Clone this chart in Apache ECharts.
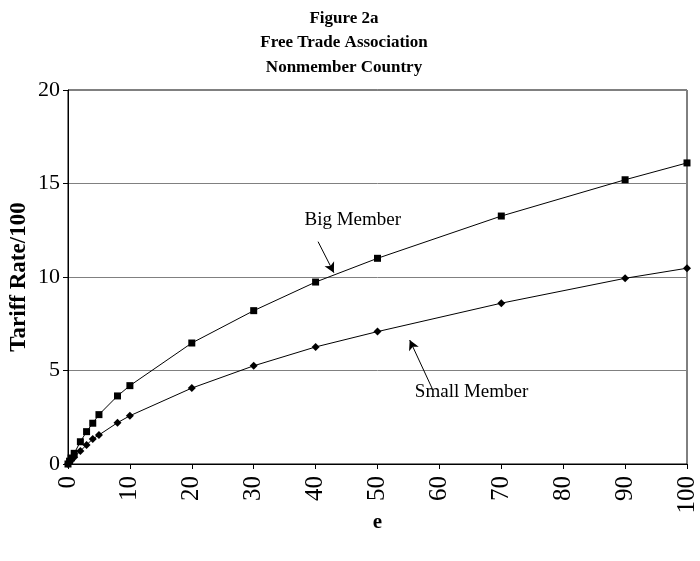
<!DOCTYPE html>
<html>
<head>
<meta charset="utf-8">
<script src="https://cdn.jsdelivr.net/npm/echarts@6/dist/echarts.min.js"></script>
<style>html,body{margin:0;padding:0;background:#fff}#c{width:700px;height:561px}</style>
</head>
<body>
<div id="c"></div>
<script>
var titleLines = ['Figure 2a', 'Free Trade Association', 'Nonmember Country'];
var xValues = [0, 0.25, 0.5, 1, 2, 3, 4, 5, 8, 10, 20, 30, 40, 50, 70, 90, 100];
var bigMember = [0, 0.15, 0.32, 0.57, 1.19, 1.73, 2.18, 2.64, 3.64, 4.19, 6.47, 8.2, 9.73, 11.0, 13.26, 15.2, 16.1];
var smallMember = [0, 0.1, 0.2, 0.36, 0.7, 1.02, 1.34, 1.55, 2.21, 2.58, 4.06, 5.25, 6.26, 7.08, 8.6, 9.93, 10.47];
var xAxisName = 'e';
var yAxisName = 'Tariff Rate/100';
// annotation anchors in data coordinates
var bigLabel = {text: 'Big Member', at: [46, 13.05]};
var bigArrow = [[40.4, 11.89], [42.95, 10.23]];
var smallLabel = {text: 'Small Member', at: [65.2, 3.85]};
var smallArrow = [[58.8, 4.06], [55.2, 6.63]];

function pairs(ys) { return xValues.map(function (x, i) { return [x, ys[i]]; }); }
var serif = '"Liberation Serif", "Times New Roman", serif';

var chart = echarts.init(document.getElementById('c'), null, {renderer: 'canvas'});
chart.setOption({
  animation: false,
  backgroundColor: '#fff',
  title: {
    text: titleLines.join('\n'),
    left: 339, top: 1, textAlign: 'center',
    textStyle: {fontFamily: serif, fontWeight: 'bold', fontSize: 17, lineHeight: 24.5, color: '#000'}
  },
  grid: {left: 67, right: 13, top: 90, bottom: 97, show: true, borderColor: '#000', borderWidth: 1, backgroundColor: 'transparent'},
  xAxis: {
    type: 'value', min: 0, max: 100, interval: 10,
    name: xAxisName, nameLocation: 'middle', nameGap: 48, nameMoveOverlap: false,
    nameTextStyle: {fontFamily: serif, fontWeight: 'bold', fontSize: 21, color: '#000'},
    axisLine: {show: true, lineStyle: {color: '#000', width: 1}},
    axisTick: {show: true, length: 5, lineStyle: {color: '#000'}},
    axisLabel: {rotate: 90, margin: 12, fontFamily: serif, fontSize: 25, color: '#000'},
    splitLine: {show: false}
  },
  yAxis: {
    type: 'value', min: 0, max: 20, interval: 5,
    name: yAxisName, nameLocation: 'middle', nameGap: 37, nameMoveOverlap: false,
    nameTextStyle: {fontFamily: serif, fontWeight: 'bold', fontSize: 23, color: '#000'},
    axisLine: {show: true, lineStyle: {color: '#000', width: 1}},
    axisTick: {show: true, length: 5, lineStyle: {color: '#000'}},
    axisLabel: {margin: 8, fontFamily: serif, fontSize: 22, color: '#000'},
    splitLine: {show: true, lineStyle: {color: '#808080', width: 1}}
  },
  series: [
    {
      name: 'Big Member', type: 'line', data: pairs(bigMember),
      symbol: 'rect', symbolSize: 7, showAllSymbol: true,
      lineStyle: {color: '#000', width: 1}, itemStyle: {color: '#000'},
      markLine: {
        silent: true, symbol: ['none', 'arrow'], symbolSize: [8, 10],
        lineStyle: {color: '#000', width: 1, type: 'solid'}, label: {show: false},
        data: [[{coord: bigArrow[0]}, {coord: bigArrow[1]}]]
      },
      markPoint: {
        silent: true, symbol: 'circle', symbolSize: 0,
        label: {show: true, position: 'inside', formatter: bigLabel.text, fontFamily: serif, fontSize: 19, color: '#000'},
        data: [{coord: bigLabel.at}]
      }
    },
    {
      name: 'Small Member', type: 'line', data: pairs(smallMember),
      symbol: 'diamond', symbolSize: 8, showAllSymbol: true,
      lineStyle: {color: '#000', width: 1}, itemStyle: {color: '#000'},
      markLine: {
        silent: true, symbol: ['none', 'arrow'], symbolSize: [8, 10],
        lineStyle: {color: '#000', width: 1, type: 'solid'}, label: {show: false},
        data: [[{coord: smallArrow[0]}, {coord: smallArrow[1]}]]
      },
      markPoint: {
        silent: true, symbol: 'circle', symbolSize: 0,
        label: {show: true, position: 'inside', formatter: smallLabel.text, fontFamily: serif, fontSize: 19, color: '#000'},
        data: [{coord: smallLabel.at}]
      }
    }
  ]
});
</script>
</body>
</html>
